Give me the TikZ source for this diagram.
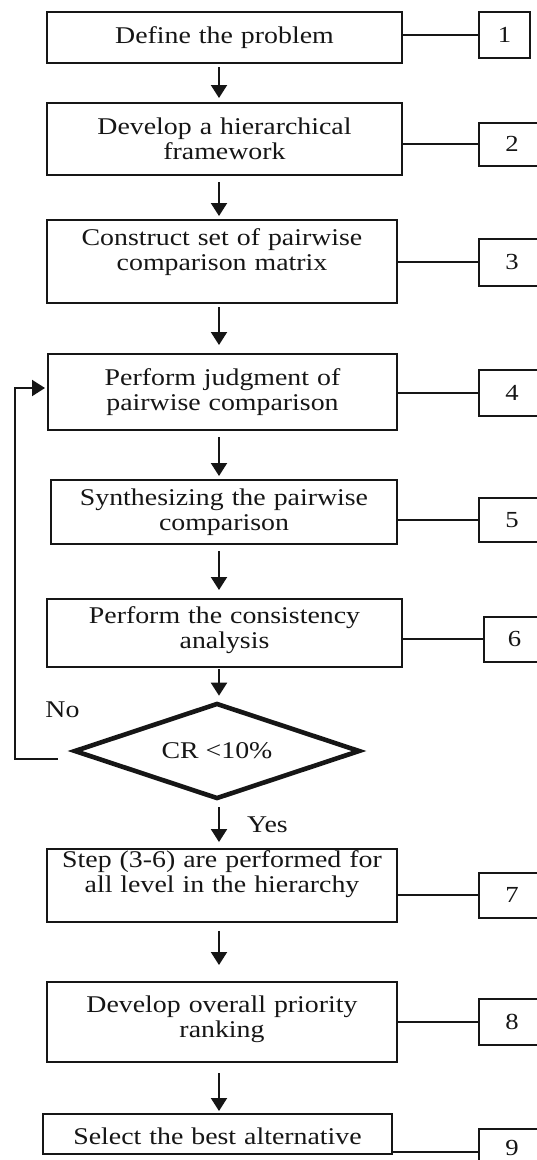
\documentclass[tikz,border=0pt]{standalone}
\usepackage{fontspec}
\setmainfont{Liberation Serif}[FakeStretch=1.16]
\usepackage{tikz}
\usetikzlibrary{shapes.geometric, arrows.meta}
\definecolor{mydark}{RGB}{22,22,22}
\tikzset{
  stepbox/.style={rectangle, draw=mydark, fill=white, text=mydark,
    text width=330pt, align=center, inner sep=2pt,
    font=\fontsize{24}{25}\selectfont, line width=2pt},
  numbox/.style={rectangle, draw=mydark, fill=white, text=mydark,
    minimum width=66pt, minimum height=46pt,
    font=\fontsize{23}{25}\selectfont, line width=2pt},
  decision/.style={diamond, aspect=3, draw=mydark, text=mydark, inner sep=0pt,
    minimum width=286pt, minimum height=96pt,
    font=\fontsize{24}{25}\selectfont, line width=4.6pt},
  tag/.style={font=\fontsize{24}{25}\selectfont, text=mydark},
  arrow/.style={-{Triangle[width=16pt,length=13pt]}, line width=2pt, color=mydark},
  line/.style={line width=2pt, color=mydark}
}
\begin{document}
\begin{tikzpicture}[x=1pt, y=-1pt]
  \useasboundingbox (0,0) rectangle (537,1160);
  \clip (0,0) rectangle (537,1160);
  \coordinate (mid) at (219,0);
  % steps
  \node[stepbox, minimum width=355pt, minimum height=51pt] (problem) at (224.5,37.5) {Define the problem};
  \node[stepbox, minimum width=355pt, minimum height=72pt] (frame) at (224.5,139) {Develop a hierarchical\\framework};
  \node[stepbox, minimum width=350pt, minimum height=83pt, text depth=49pt] (pairs) at (222,261.5) {Construct set of pairwise\\comparison matrix};
  \node[stepbox, minimum width=349pt, minimum height=76pt] (judge) at (222.5,392) {Perform judgment of\\pairwise comparison};
  \node[stepbox, minimum width=346pt, minimum height=64pt] (synth) at (224,512) {Synthesizing the pairwise\\comparison};
  \node[stepbox, minimum width=355pt, minimum height=68pt, text depth=36pt] (consist) at (224.5,633) {Perform the consistency\\analysis};
  \node[decision] (cr) at (217,751) {CR <10\%};
  \node[stepbox, minimum width=350pt, minimum height=67pt, text depth=52pt] (levels) at (222,885.5) {Step (3-6) are performed for\\all level in the hierarchy};
  \node[stepbox, minimum width=350pt, minimum height=80pt, text depth=35pt] (rank) at (222,1022) {Develop overall priority\\ranking};
  \node[stepbox, minimum width=349pt, minimum height=40pt, text height=22pt] (select) at (217.5,1134) {Select the best alternative};
  \node[tag] (no) at (62.5,710) {No};
  \node[tag] (yes) at (267.5,825) {Yes};
  % step numbers
  \node[numbox, minimum width=51pt] (num1) at (504.5,35) {1};
  \node[numbox, minimum height=43pt] (num2) at (512,144) {2};
  \node[numbox, minimum height=47pt] (num3) at (512,262) {3};
  \node[numbox] (num4) at (512,393) {4};
  \node[numbox, minimum height=44pt] (num5) at (512,520) {5};
  \node[numbox, minimum width=61pt, minimum height=45pt] (num6) at (514.5,639) {6};
  \node[numbox, minimum height=45pt] (num7) at (512,895) {7};
  \node[numbox] (num8) at (512,1022) {8};
  \node[numbox, text depth=9pt] (num9) at (512,1152) {9};
  \draw[line] (num1.west) -- (num1.west -| problem.east);
  \draw[line] (num2.west) -- (num2.west -| frame.east);
  \draw[line] (num3.west) -- (num3.west -| pairs.east);
  \draw[line] (num4.west) -- (num4.west -| judge.east);
  \draw[line] (num5.west) -- (num5.west -| synth.east);
  \draw[line] (num6.west) -- (num6.west -| consist.east);
  \draw[line] (num7.west) -- (num7.west -| levels.east);
  \draw[line] (num8.west) -- (num8.west -| rank.east);
  \draw[line] (num9.west) -- (num9.west -| select.east);
  % flow
  \draw[arrow, shorten <=3pt, shorten >=4pt] (problem.south -| mid) -- (frame.north -| mid);
  \draw[arrow, shorten <=6pt, shorten >=3pt] (frame.south -| mid) -- (pairs.north -| mid);
  \draw[arrow, shorten <=3pt, shorten >=8pt] (pairs.south -| mid) -- (judge.north -| mid);
  \draw[arrow, shorten <=6pt, shorten >=3pt] (judge.south -| mid) -- (synth.north -| mid);
  \draw[arrow, shorten <=6pt, shorten >=8pt] (synth.south -| mid) -- (consist.north -| mid);
  \draw[arrow, shorten <=1pt, shorten >=5pt] (consist.south -| mid) -- (cr.north -| mid);
  \draw[arrow, shorten <=6pt, shorten >=6pt] (cr.south -| mid) -- (levels.north -| mid);
  \draw[arrow, shorten <=8pt, shorten >=16pt] (levels.south -| mid) -- (rank.north -| mid);
  \draw[arrow, shorten <=10pt, shorten >=2pt] (rank.south -| mid) -- (select.north -| mid);
  % back to judgment
  \coordinate (loop) at (15,759);
  \draw[arrow, shorten >=2pt] ([xshift=-14pt,yshift=-8pt]cr.west) -- (loop) |- ([yshift=4pt]judge.west);
\end{tikzpicture}
\end{document}
